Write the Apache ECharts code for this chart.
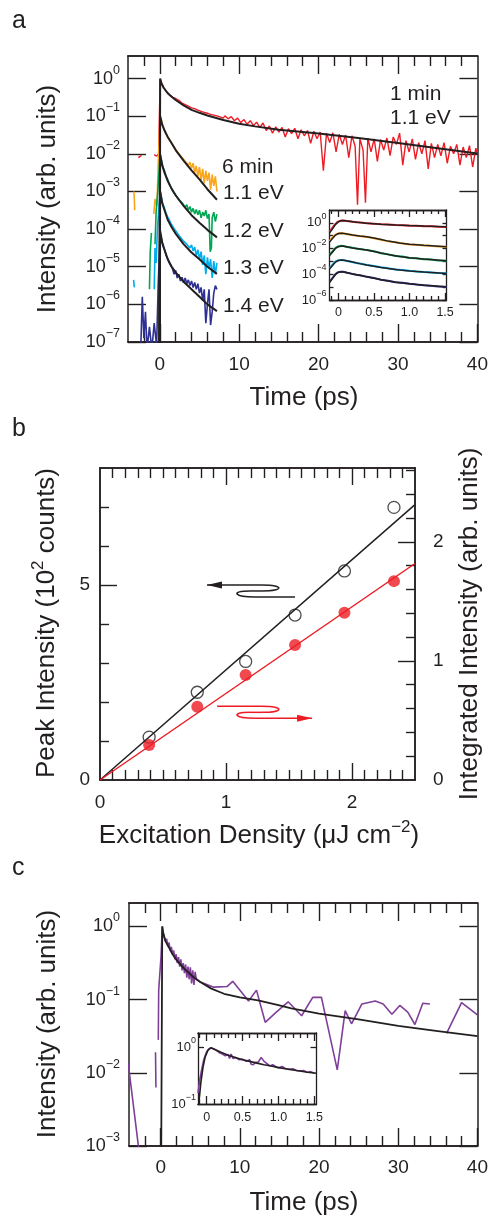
<!DOCTYPE html>
<html><head><meta charset="utf-8">
<script src="https://cdn.jsdelivr.net/npm/echarts@6/dist/echarts.min.js"></script>
<style>html,body{margin:0;padding:0;background:#fff}#c{width:491px;height:1217px}</style>
</head><body><div id="c"></div>
<script>
// ===== DATA (intensities on log axes are stored as log10 values) =====
// Panel a: tick labels
const aXMajor = [0, 10, 20, 30, 40];
const aXMinor = [-2, 2, 4, 6, 8, 12, 14, 16, 18, 22, 24, 26, 28, 32, 34, 36, 38];
const aYDecades = [-7, -6, -5, -4, -3, -2, -1, 0];
// Panel a: 1 min, 1.1 eV (red) data and fit  [time ps, log10 I]
const red1min = [[-2.7,-2.1],[-2.3,-2.04],[-2.1,'-'],[-0.7,-2.02],[-0.4,-2.06],[-0.15,-2.0],[0.05,-0.02],[0.2,-0.1],[0.4,-0.2],[0.6,-0.27],[0.8,-0.33],[1.0,-0.37],[1.2,-0.43],[1.4,-0.45],[1.6,-0.5],[1.8,-0.52],[2.0,-0.53],[2.2,-0.55],[2.4,-0.58],[2.6,-0.6],[2.8,-0.65],[3.0,-0.64],[3.2,-0.69],[3.4,-0.68],[3.6,-0.73],[3.8,-0.72],[4.0,-0.78],[4.2,-0.75],[4.4,-0.8],[4.6,-0.78],[4.8,-0.84],[5.0,-0.81],[5.2,-0.87],[5.4,-0.83],[5.6,-0.9],[5.8,-0.85],[6.0,-0.92],[6.2,-0.88],[6.4,-0.95],[6.6,-0.9],[6.8,-0.97],[7.0,-0.93],[7.2,-0.99],[7.4,-0.95],[7.6,-1.02],[7.8,-0.97],[8.0,-1.05],[8.2,-0.99],[8.6,-1.07],[9.0,-1.01],[9.4,-1.12],[9.8,-1.05],[10.2,-1.17],[10.6,-1.09],[11.0,-1.21],[11.4,-1.12],[11.8,-1.25],[12.2,-1.16],[12.6,-1.3],[13.0,-1.18],[13.4,-1.38],[13.8,-1.26],[14.2,-1.45],[14.6,-1.28],[15.0,-1.42],[15.4,-1.3],[15.8,-1.55],[16.2,-1.33],[16.6,-1.46],[17.0,-1.32],[17.4,-1.6],[17.8,-1.36],[18.2,-1.52],[18.6,-1.38],[19.0,-1.72],[19.4,-1.4],[19.8,-1.6],[20.2,-1.42],[20.6,-2.45],[21.0,-1.45],[21.4,-1.7],[21.8,-1.44],[22.2,-1.95],[22.6,-1.48],[23.0,-1.75],[23.4,-1.5],[23.8,-2.1],[24.2,-1.52],[24.6,-1.8],[24.9,-3.35],[25.2,-1.6],[25.6,-1.9],[25.9,-3.3],[26.2,-1.58],[26.6,-1.95],[27.0,-1.6],[27.4,-2.2],[27.8,-1.62],[28.2,-1.9],[28.6,-1.58],[29.0,-2.05],[29.4,-1.55],[29.8,-1.75],[30.2,-1.45],[30.6,-2.3],[31.0,-1.65],[31.4,-1.95],[31.8,-1.6],[32.2,-2.15],[32.6,-1.7],[33.0,-2.0],[33.4,-1.65],[33.8,-2.4],[34.2,-1.72],[34.6,-2.1],[35.0,-1.75],[35.4,-2.05],[35.8,-1.7],[36.2,-2.25],[36.6,-1.8],[37.0,-2.0],[37.4,-1.75],[37.8,-2.3],[38.2,-1.82],[38.6,-2.1],[39.0,-1.78],[39.4,-2.35],[39.8,-1.85],[40.0,-2.0]];
const red1minFit = [[-0.05,-8],[0.05,0],[0.2,-0.12],[0.5,-0.25],[1,-0.39],[1.5,-0.48],[2,-0.57],[3,-0.71],[4,-0.83],[5,-0.91],[6,-0.98],[8,-1.1],[10,-1.2],[12,-1.27],[15,-1.36],[18,-1.42],[20,-1.46],[25,-1.58],[30,-1.71],[35,-1.85],[40,-1.99]];
// Panel a: 6 min curves
const orange11 = [[-3.25,-3.0],[-3.15,-3.5],[-3.0,'-'],[-0.75,-3.6],[-0.6,-3.2],[-0.35,-3.4],[-0.2,-2.3],[0.05,-1.0],[0.2,-1.1],[0.4,-1.28],[0.6,-1.36],[0.8,-1.48],[1.0,-1.52],[1.2,-1.62],[1.4,-1.66],[1.6,-1.76],[1.8,-1.8],[2.0,-1.88],[2.2,-1.92],[2.4,-2.0],[2.6,-2.02],[2.8,-2.1],[3.0,-2.08],[3.2,-2.2],[3.4,-2.15],[3.6,-2.3],[3.8,-2.22],[4.0,-2.38],[4.2,-2.25],[4.4,-2.5],[4.6,-2.32],[4.8,-2.6],[5.0,-2.35],[5.2,-2.7],[5.4,-2.4],[5.6,-2.78],[5.8,-2.45],[6.0,-2.72],[6.2,-2.5],[6.4,-2.95],[6.6,-2.55],[6.8,-2.85],[7.0,-2.6],[7.2,-3.0]];
const orange11Fit = [[-0.05,-8],[0.05,-1.0],[0.3,-1.22],[0.6,-1.38],[1,-1.55],[1.5,-1.72],[2,-1.9],[3,-2.18],[4,-2.44],[5,-2.68],[6,-2.94],[7.2,-3.22]];
const green12 = [[-1.3,-5.6],[-1.2,-4.6],[-1.05,-4.1],[-0.95,'-'],[-0.6,-4.4],[-0.45,-3.5],[-0.25,-3.0],[0.05,-2.0],[0.2,-2.15],[0.4,-2.35],[0.6,-2.45],[0.8,-2.6],[1.0,-2.68],[1.2,-2.8],[1.4,-2.85],[1.6,-2.98],[1.8,-3.02],[2.0,-3.1],[2.2,-3.12],[2.4,-3.22],[2.6,-3.2],[2.8,-3.3],[3.0,-3.28],[3.2,-3.42],[3.4,-3.35],[3.6,-3.5],[3.8,-3.4],[4.0,-3.55],[4.2,-3.45],[4.4,-3.6],[4.6,-3.48],[4.8,-3.62],[5.0,-3.5],[5.2,-3.7],[5.4,-3.55],[5.6,-3.65],[5.8,-3.5],[6.0,-3.72],[6.2,-3.6],[6.35,-4.6],[6.5,-4.5],[6.6,-3.7],[6.8,-3.55],[7.0,-3.8],[7.2,-3.6]];
const green12Fit = [[-0.05,-8],[0.05,-2.02],[0.3,-2.3],[0.6,-2.5],[1,-2.72],[1.5,-2.93],[2,-3.1],[3,-3.38],[4,-3.63],[5,-3.83],[6,-4.02],[7.2,-4.22]];
const cyan13 = [[-3.3,-5.35],[-3.2,-5.55],[-3.0,'-'],[-0.7,-5.6],[-0.6,-4.5],[-0.45,-4.9],[-0.3,-4.0],[0.05,-3.0],[0.2,-3.15],[0.4,-3.35],[0.6,-3.45],[0.8,-3.58],[1.0,-3.68],[1.2,-3.75],[1.4,-3.85],[1.6,-3.9],[1.8,-3.98],[2.0,-4.02],[2.2,-4.1],[2.4,-4.12],[2.6,-4.22],[2.8,-4.2],[3.0,-4.32],[3.2,-4.28],[3.4,-4.4],[3.6,-4.35],[3.8,-4.5],[4.0,-4.42],[4.2,-4.58],[4.4,-4.48],[4.6,-4.7],[4.8,-4.55],[5.0,-4.8],[5.2,-4.6],[5.4,-4.95],[5.6,-4.7],[5.8,-5.2],[6.0,-4.75],[6.2,-5.05],[6.4,-4.8],[6.6,-5.3],[6.8,-4.85],[7.0,-5.2],[7.2,-4.9]];
const cyan13Fit = [[-0.05,-8],[0.05,-3.0],[0.3,-3.3],[0.6,-3.5],[1,-3.75],[1.5,-3.95],[2,-4.12],[3,-4.4],[4,-4.62],[5,-4.8],[6,-5.0],[7.2,-5.19]];
const blue14 = [[-2.4,-7.2],[-2.2,-5.8],[-2.0,-6.9],[-1.8,-6.2],[-1.6,-7.2],[-1.3,-6.6],[-1.0,-7.2],[-0.7,-6.5],[-0.4,-7.1],[-0.2,-5.5],[0.05,-4.1],[0.2,-4.25],[0.4,-4.45],[0.6,-4.55],[0.8,-4.7],[1.0,-4.78],[1.2,-4.9],[1.4,-4.95],[1.6,-5.05],[1.8,-5.2],[2.0,-5.1],[2.2,-5.3],[2.4,-5.2],[2.6,-5.38],[2.8,-5.28],[3.0,-5.42],[3.2,-5.3],[3.4,-5.45],[3.6,-5.35],[3.8,-5.5],[4.0,-5.38],[4.2,-5.55],[4.4,-5.42],[4.6,-5.6],[4.8,-5.45],[5.0,-5.7],[5.2,-5.55],[5.4,-5.9],[5.6,-5.6],[5.8,-6.5],[6.0,-6.0],[6.2,-5.6],[6.4,-6.55],[6.6,-6.2],[6.8,-5.7],[7.0,-5.5],[7.2,-5.6]];
const blue14Fit = [[-0.05,-8],[0.05,-4.05],[0.3,-4.35],[0.6,-4.55],[1,-4.8],[1.5,-5.0],[2,-5.15],[3,-5.4],[4,-5.6],[5,-5.8],[6,-6.0],[7.2,-6.18]];
// Inset a (0-1.5 ps)
const insAXMajor = [0, 0.5, 1.0, 1.5];
const insAXMinor = [-0.1, 0.1, 0.2, 0.3, 0.4, 0.6, 0.7, 0.8, 0.9, 1.1, 1.2, 1.3, 1.4];
const insAYTicks = [-6, -5, -4, -3, -2, -1, 0];
const insAYLabels = [0, -2, -4, -6];
const insRed = [[-0.125,-0.69],[-0.1,-0.5],[-0.07,-0.28],[-0.04,-0.08],[-0.01,0.08],[0.03,0.17],[0.07,0.19],[0.12,0.14],[0.18,0.11],[0.25,0.05],[0.32,0.02],[0.4,-0.04],[0.5,-0.06],[0.6,-0.11],[0.7,-0.12],[0.8,-0.17],[0.9,-0.18],[1.0,-0.22],[1.1,-0.22],[1.2,-0.26],[1.3,-0.27],[1.4,-0.3],[1.52,-0.32]];
const insRedFit = [[-0.125,-0.8],[-0.08,-0.45],[-0.04,-0.12],[0,0.08],[0.05,0.18],[0.1,0.16],[0.2,0.08],[0.3,0.02],[0.4,-0.03],[0.6,-0.1],[0.8,-0.16],[1.0,-0.21],[1.2,-0.25],[1.52,-0.31]];
const insOrange = [[-0.125,-1.42],[-0.1,-1.25],[-0.07,-1.05],[-0.04,-0.92],[-0.01,-0.84],[0.03,-0.79],[0.07,-0.8],[0.12,-0.88],[0.18,-0.93],[0.25,-1.0],[0.32,-1.04],[0.4,-1.1],[0.5,-1.2],[0.6,-1.32],[0.7,-1.44],[0.8,-1.5],[0.9,-1.6],[1.0,-1.68],[1.1,-1.7],[1.2,-1.77],[1.3,-1.79],[1.4,-1.84],[1.52,-1.86]];
const insOrangeFit = [[-0.125,-1.5],[-0.08,-1.2],[-0.04,-0.95],[0,-0.83],[0.05,-0.8],[0.1,-0.84],[0.2,-0.95],[0.3,-1.03],[0.4,-1.08],[0.5,-1.18],[0.6,-1.3],[0.7,-1.42],[0.86,-1.57],[1.0,-1.66],[1.2,-1.75],[1.52,-1.85]];
const insGreen = [[-0.125,-2.5],[-0.1,-2.35],[-0.07,-2.15],[-0.04,-1.95],[-0.01,-1.84],[0.03,-1.79],[0.07,-1.8],[0.12,-1.88],[0.18,-1.92],[0.25,-2.0],[0.32,-2.05],[0.4,-2.12],[0.5,-2.2],[0.6,-2.36],[0.7,-2.45],[0.8,-2.58],[0.9,-2.62],[1.0,-2.74],[1.1,-2.76],[1.2,-2.84],[1.3,-2.85],[1.4,-2.92],[1.52,-2.95]];
const insGreenFit = [[-0.125,-2.55],[-0.08,-2.25],[-0.04,-1.98],[0,-1.85],[0.05,-1.8],[0.1,-1.84],[0.2,-1.95],[0.3,-2.03],[0.4,-2.11],[0.5,-2.22],[0.6,-2.35],[0.7,-2.47],[0.86,-2.62],[1.0,-2.72],[1.2,-2.82],[1.52,-2.94]];
const insCyan = [[-0.125,-3.54],[-0.1,-3.4],[-0.07,-3.18],[-0.04,-3.0],[-0.01,-2.92],[0.03,-2.88],[0.07,-2.9],[0.12,-2.96],[0.18,-3.02],[0.25,-3.12],[0.32,-3.18],[0.4,-3.27],[0.5,-3.36],[0.6,-3.46],[0.7,-3.53],[0.8,-3.62],[0.9,-3.67],[1.0,-3.73],[1.1,-3.78],[1.2,-3.82],[1.3,-3.86],[1.4,-3.9],[1.52,-3.92]];
const insCyanFit = [[-0.125,-3.6],[-0.08,-3.3],[-0.04,-3.05],[0,-2.93],[0.05,-2.89],[0.1,-2.93],[0.2,-3.05],[0.3,-3.17],[0.4,-3.28],[0.5,-3.38],[0.6,-3.47],[0.7,-3.55],[0.86,-3.66],[1.0,-3.74],[1.2,-3.83],[1.52,-3.93]];
const insBlue = [[-0.125,-4.58],[-0.1,-4.42],[-0.07,-4.2],[-0.04,-3.98],[-0.01,-3.85],[0.03,-3.8],[0.07,-3.81],[0.12,-3.88],[0.18,-3.95],[0.25,-4.04],[0.32,-4.1],[0.4,-4.2],[0.5,-4.28],[0.6,-4.42],[0.7,-4.5],[0.8,-4.62],[0.9,-4.66],[1.0,-4.74],[1.1,-4.8],[1.2,-4.85],[1.3,-4.9],[1.4,-4.95],[1.52,-4.98]];
const insBlueFit = [[-0.125,-4.65],[-0.08,-4.3],[-0.04,-4.0],[0,-3.85],[0.05,-3.8],[0.1,-3.84],[0.2,-3.97],[0.3,-4.08],[0.4,-4.19],[0.5,-4.3],[0.6,-4.42],[0.7,-4.52],[0.86,-4.65],[1.0,-4.74],[1.2,-4.85],[1.52,-4.97]];
// Panel b
const bXMajor = [1, 2];
const bXLabels = [0, 1, 2];
const bXMinor = [0.1,0.2,0.3,0.4,0.5,0.6,0.7,0.8,0.9,1.1,1.2,1.3,1.4,1.5,1.6,1.7,1.8,1.9,2.1,2.2,2.3,2.4];
const bYLMinor = [1, 2, 3, 4, 6, 7];
const bYRMinor = [0.2,0.4,0.6,0.8,1.2,1.4,1.6,1.8,2.2,2.4,2.6];
const density = [0.39, 0.772, 1.156, 1.548, 1.94, 2.333];         // µJ cm^-2
const peakIntensity = [1.10, 2.25, 3.04, 4.23, 5.36, 6.99];       // 10^2 counts
const integratedIntensity = [0.294, 0.615, 0.881, 1.133, 1.404, 1.67]; // arb. units
const peakFit = [[0, 0], [2.5, 7.06]];
const integratedFit = [[0, 0], [2.5, 1.818]];
// Panel c
const cYDecades = [-3, -2, -1, 0];
const purpleC = [[-4.1,-1.87],[-2.7,-3.1],[-1.0,'-'],[-0.65,-1.72],[-0.6,-2.2],[-0.4,'-'],[-0.3,-1.55],[-0.25,-0.87],[0.05,-0.4],[0.2,0.0],[0.3,-0.08],[0.45,-0.15],[0.6,-0.2],[0.75,-0.17],[0.9,-0.27],[1.05,-0.22],[1.2,-0.33],[1.35,-0.28],[1.5,-0.38],[1.65,-0.33],[1.8,-0.45],[1.95,-0.38],[2.1,-0.5],[2.25,-0.42],[2.4,-0.55],[2.55,-0.45],[2.7,-0.6],[2.85,-0.5],[3.0,-0.64],[3.15,-0.52],[3.3,-0.7],[3.45,-0.55],[3.6,-0.72],[3.75,-0.56],[3.9,-0.78],[4.05,-0.6],[4.2,-0.8],[4.35,-0.62],[4.5,-0.72],[5.0,-0.76],[6.7,-0.83],[8.4,-0.82],[9.1,-0.75],[11.1,-1.02],[12.1,-0.87],[13.2,-1.31],[14.6,-1.17],[16.1,-1.03],[17.8,-1.22],[19.2,-0.97],[20.3,-0.97],[22.3,-1.96],[23.3,-1.15],[24.1,-1.33],[25.4,-1.06],[27.1,-1.02],[28.1,-1.06],[29.2,-1.2],[30.2,-1.08],[31.2,-1.17],[32.1,-1.34],[33.1,-1.05],[34.0,-1.06],[35.0,'-'],[36.1,-1.46],[38.0,-1.04],[40.0,-1.21]];
const purpleCFit = [[0.03,-4],[0.2,0],[0.3,-0.08],[0.6,-0.2],[1,-0.28],[1.5,-0.38],[2,-0.46],[3,-0.58],[4,-0.68],[5,-0.76],[6.4,-0.85],[8,-0.92],[10,-0.97],[12.3,-1.01],[15,-1.08],[16.5,-1.12],[20,-1.19],[25,-1.27],[30,-1.36],[35,-1.43],[40,-1.5]];
// Inset c
const insCYTicks = [0];
const insCYLabels = [-1, 0];
const insPurple = [[-0.12,-0.81],[-0.1,-0.6],[-0.07,-0.4],[-0.04,-0.22],[0.0,-0.08],[0.03,-0.03],[0.06,-0.01],[0.1,-0.03],[0.14,-0.06],[0.18,-0.1],[0.22,-0.12],[0.26,-0.15],[0.3,-0.13],[0.32,-0.2],[0.34,-0.12],[0.37,-0.2],[0.4,-0.18],[0.45,-0.22],[0.5,-0.21],[0.55,-0.25],[0.6,-0.22],[0.62,-0.3],[0.65,-0.31],[0.68,-0.27],[0.72,-0.26],[0.76,-0.18],[0.8,-0.25],[0.85,-0.3],[0.88,-0.33],[0.92,-0.31],[0.96,-0.34],[1.0,-0.36],[1.05,-0.34],[1.1,-0.38],[1.15,-0.39],[1.2,-0.38],[1.25,-0.41],[1.3,-0.42],[1.35,-0.41],[1.4,-0.44],[1.45,-0.43],[1.5,-0.46]];
const insPurpleFit = [[-0.11,-1.0],[-0.08,-0.62],[-0.05,-0.35],[-0.02,-0.17],[0.02,-0.05],[0.06,-0.01],[0.1,-0.03],[0.2,-0.09],[0.3,-0.14],[0.4,-0.18],[0.5,-0.22],[0.6,-0.25],[0.7,-0.28],[0.8,-0.31],[0.9,-0.33],[1.0,-0.36],[1.1,-0.38],[1.2,-0.4],[1.3,-0.42],[1.4,-0.44],[1.53,-0.46]];
// Panel b arrow annotations (in panel-b data coords: x, left-axis y)
const arrowBlack = [[0.849,5.0],[1.286,5.0],[1.468,5.0],[1.460,4.847],[1.286,4.847],[1.190,4.847],[1.032,4.847],[1.063,4.694],[1.230,4.694],[1.548,4.694]];
const arrowRed = [[0.929,1.888],[1.286,1.888],[1.468,1.888],[1.460,1.735],[1.286,1.735],[1.190,1.735],[1.032,1.735],[1.063,1.582],[1.230,1.582],[1.683,1.582]];

// ===== STYLE =====
const INK = '#231f20';
const FONT = "'Liberation Sans', Arial, Helvetica, sans-serif";
const C = {red:'#ed1c24', orange:'#faa61a', green:'#00a651', cyan:'#00aeef', blue:'#2e3192', purple:'#7f3f98'};

const grid = [
  {left:128, top:56, width:351, height:286},
  {left:329.5, top:210, width:117, height:90},
  {left:100, top:468, width:315, height:312},
  {left:129, top:903, width:349, height:243},
  {left:198, top:1033, width:118.5, height:71}
];
grid.forEach(g => { g.containLabel = false; g.show = false; });

const xAxis = [], yAxis = [];
function addAxis(list, gi, position, min, max, ticks, len, labels, fmt, lab, lw) {
  list.push({
    type:'value', gridIndex:gi, position, min, max,
    axisLine:{show:true, onZero:false, lineStyle:{color:INK, width:lw||1.5}},
    axisTick:{show:ticks.length>0, inside:true, length:len, customValues:ticks.length?ticks:undefined, lineStyle:{color:INK, width:lw||1.4}},
    axisLabel: labels ? Object.assign({show:true, customValues:labels, formatter:fmt, color:INK, fontFamily:FONT}, lab) : {show:false},
    splitLine:{show:false}, axisPointer:{show:false}
  });
  return list.length - 1;
}
const expStr = v => v === 0 ? '0' : (v < 0 ? '\u2212' + Math.abs(v) : String(v));
const logFmt = v => '{b|10}{s|' + expStr(v) + '}';
const richMain = {b:{fontSize:18, fontFamily:FONT, color:INK, lineHeight:30}, s:{fontSize:12.5, fontFamily:FONT, color:INK, verticalAlign:'top', lineHeight:12}};
const richSmall = {b:{fontSize:13, fontFamily:FONT, color:INK, lineHeight:22}, s:{fontSize:9, fontFamily:FONT, color:INK, verticalAlign:'top', lineHeight:7}};
const numFmt = v => String(v);
const insFmt = v => v === 0 ? '0' : v.toFixed(1);

// Panel a
const aX = addAxis(xAxis,0,'bottom',-4,40,aXMajor,18,aXMajor,numFmt,{fontSize:19,margin:13});
addAxis(xAxis,0,'bottom',-4,40,aXMinor,10);
addAxis(xAxis,0,'top',-4,40,[0,10,20,30],18);
addAxis(xAxis,0,'top',-4,40,aXMinor,10);
const aY = addAxis(yAxis,0,'left',-7,0.6,aYDecades,18,aYDecades,logFmt,{margin:8,rich:richMain});
addAxis(yAxis,0,'right',-7,0.6,aYDecades,18);
// Inset a
const iaX = addAxis(xAxis,1,'bottom',-0.125,1.52,insAXMajor,7,insAXMajor,insFmt,{fontSize:12.5,margin:6},1.3);
addAxis(xAxis,1,'bottom',-0.125,1.52,insAXMinor,4,null,null,null,1.3);
addAxis(xAxis,1,'top',-0.125,1.52,insAXMajor,7,null,null,null,1.3);
addAxis(xAxis,1,'top',-0.125,1.52,insAXMinor,4,null,null,null,1.3);
const iaY = addAxis(yAxis,1,'left',-6,1,insAYTicks,4,insAYLabels,logFmt,{margin:3,rich:richSmall},1.3);
addAxis(yAxis,1,'right',-6,1,insAYTicks,4,null,null,null,1.3);
// Panel b
const bX = addAxis(xAxis,2,'bottom',0,2.5,bXMajor,17,bXLabels,numFmt,{fontSize:19,margin:13});
addAxis(xAxis,2,'bottom',0,2.5,bXMinor,10);
addAxis(xAxis,2,'top',0,2.5,bXMajor,17);
addAxis(xAxis,2,'top',0,2.5,bXMinor,10);
const bYL = addAxis(yAxis,2,'left',0,8,[5],17,[0,5],numFmt,{fontSize:19,margin:10});
addAxis(yAxis,2,'left',0,8,bYLMinor,9);
const bYR = addAxis(yAxis,2,'right',0,2.62,[1,2],17,[0,1,2],numFmt,{fontSize:19,margin:18});
addAxis(yAxis,2,'right',0,2.62,bYRMinor,9);
// Panel c
const cX = addAxis(xAxis,3,'bottom',-4,40,aXMajor,18,aXMajor,numFmt,{fontSize:19,margin:12});
addAxis(xAxis,3,'bottom',-4,40,aXMinor,10);
addAxis(xAxis,3,'top',-4,40,[0,10,20,30],18);
addAxis(xAxis,3,'top',-4,40,aXMinor,10);
const cY = addAxis(yAxis,3,'left',-3,0.32,cYDecades,18,cYDecades,logFmt,{margin:9,rich:richMain});
addAxis(yAxis,3,'right',-3,0.32,cYDecades,18);
// Inset c
const icX = addAxis(xAxis,4,'bottom',-0.12,1.53,insAXMajor,8,insAXMajor,insFmt,{fontSize:12.5,margin:7},1.3);
addAxis(xAxis,4,'bottom',-0.12,1.53,insAXMinor,5,null,null,null,1.3);
addAxis(xAxis,4,'top',-0.12,1.53,insAXMajor,8,null,null,null,1.3);
addAxis(xAxis,4,'top',-0.12,1.53,insAXMinor,5,null,null,null,1.3);
const icY = addAxis(yAxis,4,'left',-1,0.25,insCYTicks,6,insCYLabels,logFmt,{margin:2,rich:richSmall},1.3);
addAxis(yAxis,4,'right',-1,0.25,insCYTicks,6,null,null,null,1.3);

function line(xi, yi, data, color, w) {
  return {type:'line', xAxisIndex:xi, yAxisIndex:yi, data, showSymbol:false, symbol:'none',
    lineStyle:{color, width:w}, itemStyle:{color}, connectNulls:false, clip:true, silent:true, animation:false};
}
const series = [
  line(aX,aY,red1min,C.red,1.4), line(aX,aY,orange11,C.orange,1.6), line(aX,aY,green12,C.green,1.6),
  line(aX,aY,cyan13,C.cyan,1.6), line(aX,aY,blue14,C.blue,1.6),
  line(aX,aY,red1minFit,INK,2), line(aX,aY,orange11Fit,INK,2), line(aX,aY,green12Fit,INK,2),
  line(aX,aY,cyan13Fit,INK,2), line(aX,aY,blue14Fit,INK,2),
  line(iaX,iaY,insRed,C.red,2), line(iaX,iaY,insOrange,C.orange,2), line(iaX,iaY,insGreen,C.green,2),
  line(iaX,iaY,insCyan,C.cyan,2), line(iaX,iaY,insBlue,C.blue,2),
  line(iaX,iaY,insRedFit,INK,1.5), line(iaX,iaY,insOrangeFit,INK,1.5), line(iaX,iaY,insGreenFit,INK,1.5),
  line(iaX,iaY,insCyanFit,INK,1.5), line(iaX,iaY,insBlueFit,INK,1.5),
  line(bX,bYL,peakFit,INK,1.5), line(bX,bYR,integratedFit,C.red,1.5),
  {type:'scatter', xAxisIndex:bX, yAxisIndex:bYL, data:density.map((d,i)=>[d,peakIntensity[i]]), symbol:'circle', symbolSize:12,
    itemStyle:{color:'rgba(255,255,255,0)', borderColor:INK, borderWidth:1.3}, silent:true, animation:false},
  {type:'scatter', xAxisIndex:bX, yAxisIndex:bYR, data:density.map((d,i)=>[d,integratedIntensity[i]]), symbol:'circle', symbolSize:12,
    itemStyle:{color:C.red}, silent:true, animation:false},
  line(cX,cY,purpleC,C.purple,1.6), line(cX,cY,purpleCFit,INK,1.8),
  line(icX,icY,insPurple,C.purple,1.6), line(icX,icY,insPurpleFit,INK,1.6)
];

const chart = echarts.init(document.getElementById('c'), null, {renderer:'canvas'});
chart.setOption({animation:false, backgroundColor:'#fff', grid, xAxis, yAxis, series});

function txt(x, y, text, size, o) {
  o = o || {};
  return {type:'text', x, y, rotation:o.rot||0, silent:true, z:100,
    style:{text, fontSize:size, fontFamily:FONT, fill:o.fill||INK, align:o.align||'left', verticalAlign:'middle', rich:o.rich}};
}
const titleRich = {n:{fontSize:26, fontFamily:FONT, color:INK, lineHeight:34}, s:{fontSize:17, fontFamily:FONT, color:INK, verticalAlign:'top', lineHeight:14}};
const graphic = [
  txt(12, 21, 'a', 25), txt(12, 429, 'b', 25), txt(12, 868, 'c', 25),
  txt(48, 199, 'Intensity (arb. units)', 26, {align:'center', rot:Math.PI/2}),
  txt(304, 398, 'Time (ps)', 26, {align:'center'}),
  txt(390, 94, '1 min', 21), txt(390, 118, '1.1 eV', 21),
  txt(222, 167, '6 min', 21), txt(223, 193, '1.1 eV', 21), txt(223, 231, '1.2 eV', 21),
  txt(223, 268, '1.3 eV', 21), txt(223, 306, '1.4 eV', 21),
  txt(259, 836, '{n|Excitation Density (\u03bcJ cm}{s|\u22122}{n|)}', 26, {align:'center', rich:titleRich}),
  txt(47, 623, '{n|Peak Intensity (10}{s|2}{n| counts)}', 26, {align:'center', rot:Math.PI/2, rich:titleRich}),
  txt(470, 624, 'Integrated Intensity (arb. units)', 26, {align:'center', rot:Math.PI/2}),
  txt(48, 1024, 'Intensity (arb. units)', 26, {align:'center', rot:Math.PI/2}),
  txt(304, 1203, 'Time (ps)', 26, {align:'center'})
];
function P(p) { return chart.convertToPixel({xAxisIndex:bX, yAxisIndex:bYL}, p); }
function squiggle(pts, color, headDir) {
  const q = pts.map(P);
  const st = {stroke:color, lineWidth:1.5, fill:null};
  const els = [
    {type:'polyline', silent:true, z:50, shape:{points:[q[0], q[1]]}, style:st},
    {type:'bezierCurve', silent:true, z:50, shape:{x1:q[1][0], y1:q[1][1], cpx1:q[2][0], cpy1:q[2][1], cpx2:q[3][0], cpy2:q[3][1], x2:q[4][0], y2:q[4][1]}, style:st},
    {type:'polyline', silent:true, z:50, shape:{points:[q[4], q[5]]}, style:st},
    {type:'bezierCurve', silent:true, z:50, shape:{x1:q[5][0], y1:q[5][1], cpx1:q[6][0], cpy1:q[6][1], cpx2:q[7][0], cpy2:q[7][1], x2:q[8][0], y2:q[8][1]}, style:st},
    {type:'polyline', silent:true, z:50, shape:{points:[q[8], q[9]]}, style:st}
  ];
  const tip = headDir < 0 ? q[0] : q[9];
  const d = headDir < 0 ? 15 : -15;
  els.push({type:'polygon', silent:true, z:51, shape:{points:[[tip[0],tip[1]],[tip[0]+d,tip[1]-3.5],[tip[0]+d,tip[1]+3.5]]}, style:{fill:color}});
  return els;
}
squiggle(arrowBlack, INK, -1).forEach(e => graphic.push(e));
squiggle(arrowRed, C.red, 1).forEach(e => graphic.push(e));
chart.setOption({graphic});
</script>
</body></html>
